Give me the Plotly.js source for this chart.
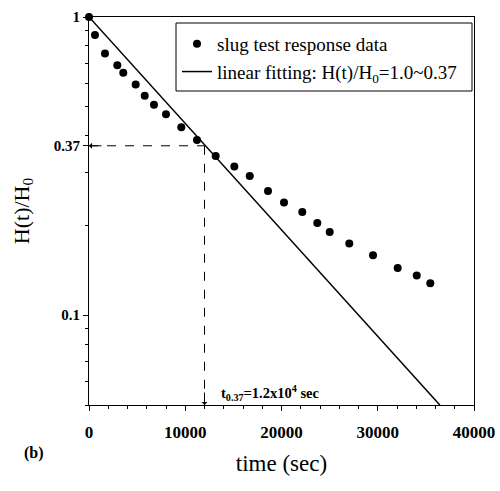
<!DOCTYPE html>
<html><head><meta charset="utf-8">
<script src="https://cdn.plot.ly/plotly-3.0.1.min.js"></script>
<style>html,body{margin:0;padding:0;background:#fff}#chart{width:500px;height:491px}</style>
</head><body><div id="chart"></div>
<script>
// slug test response data (time in sec, normalized head)
const timeSec = [0, 620, 1660, 2940, 3560, 4850, 5790, 6750, 8000, 9590, 11220, 13160, 15100, 16700, 18600, 20260, 22160, 23720, 25010, 27040, 29510, 32070, 34050, 35460];
const headRatio = [1.0, 0.870, 0.755, 0.689, 0.650, 0.594, 0.544, 0.508, 0.472, 0.427, 0.387, 0.342, 0.315, 0.293, 0.261, 0.239, 0.222, 0.204, 0.190, 0.174, 0.159, 0.144, 0.136, 0.128];
// linear fitting line endpoints
const fitTime = [0, 36450];
const fitHead = [1.0, 0.05];
// characteristic time guide
const tChar = 12000;
const hChar = 0.37;
const yBottom = 0.05;
// ticks
const xTickVals = [0, 10000, 20000, 30000, 40000];
const yTickVals = [0.1, 0.37, 1];
const yTickText = ['0.1', '0.37', '1'];
const yMinorVals = [0.05, 0.06, 0.07, 0.08, 0.09, 0.2, 0.3, 0.4, 0.5, 0.6, 0.7, 0.8, 0.9];

const serif = 'Liberation Serif, Times New Roman, serif';

const traces = [
  {x: timeSec, y: headRatio, mode: 'markers', type: 'scatter', name: 'slug test response data',
   marker: {color: '#000', size: 8}, cliponaxis: false},
  {x: fitTime, y: fitHead, mode: 'lines', type: 'scatter',
   name: 'linear fitting: H(t)/H<sub>0</sub>=1.0~0.37',
   line: {color: '#000', width: 1.5}},
  {x: [0, tChar], y: [hChar, hChar], mode: 'lines', type: 'scatter', showlegend: false,
   line: {color: '#000', width: 1, dash: 'dash'}, hoverinfo: 'skip'},
  {x: [tChar, tChar], y: [hChar, yBottom], mode: 'lines', type: 'scatter', showlegend: false,
   line: {color: '#000', width: 1, dash: 'dash'}, hoverinfo: 'skip'}
];

const px2x = p => (p - 89) / 385;
const px2y = p => (405 - p) / 388;

const layout = {
  width: 500, height: 491,
  margin: {l: 89, r: 26, t: 17, b: 86},
  paper_bgcolor: '#fff', plot_bgcolor: '#fff',
  font: {family: serif, color: '#000'},
  showlegend: true,
  legend: {x: px2x(177), y: px2y(25), xanchor: 'left', yanchor: 'top', bgcolor: 'rgba(0,0,0,0)',
           borderwidth: 0, font: {family: serif, size: 19, color: '#000'}},
  xaxis: {
    range: [0, 40000], tickvals: xTickVals, ticktext: xTickVals.map(String),
    showgrid: false, zeroline: false, showline: true, linecolor: '#000', linewidth: 1, mirror: true,
    ticks: 'outside', ticklen: 5, tickcolor: '#000', ticklabelstandoff: 7,
    tickfont: {family: serif, size: 17, color: '#000', weight: 'bold'},
    minor: {dtick: 2000, ticks: 'outside', ticklen: 3, tickcolor: '#000'},
    title: {text: 'time (sec)', font: {family: serif, size: 23, color: '#000'}, standoff: 13}
  },
  yaxis: {
    type: 'log', range: [Math.log10(0.05), 0],
    tickvals: yTickVals, ticktext: yTickText,
    showgrid: false, zeroline: false, showline: true, linecolor: '#000', linewidth: 1, mirror: true,
    ticks: 'outside', ticklen: 5, tickcolor: '#000',
    tickfont: {family: serif, size: 15, color: '#000', weight: 'bold'},
    minor: {tickmode: 'array', tickvals: yMinorVals, ticks: 'outside', ticklen: 3, tickcolor: '#000'},
    title: {text: 'H(t)/H<sub>0</sub>', font: {family: serif, size: 22, color: '#000'}, standoff: 18}
  },
  shapes: [
    {type: 'rect', xref: 'paper', yref: 'paper', x0: px2x(176), x1: px2x(472), y0: px2y(91), y1: px2y(23),
     line: {color: '#000', width: 1}, fillcolor: 'rgba(0,0,0,0)'}
  ],
  annotations: [
    {x: 0, y: Math.log10(hChar), xref: 'x', yref: 'y', ax: 14, ay: 0, showarrow: true,
     arrowhead: 1, arrowsize: 1, arrowwidth: 1, arrowcolor: '#000', text: ''},
    {x: tChar, y: Math.log10(yBottom), xref: 'x', yref: 'y', ax: 0, ay: -14, showarrow: true,
     arrowhead: 1, arrowsize: 1, arrowwidth: 1, arrowcolor: '#000', text: ''},
    {x: px2x(219), y: px2y(393), xref: 'paper', yref: 'paper', xanchor: 'left', yanchor: 'middle', showarrow: false,
     text: '<b>t<sub>0.37</sub>=1.2x10<sup>4</sup> sec</b>', font: {family: serif, size: 14.5, color: '#000'}},
    {x: px2x(34), y: px2y(453), xref: 'paper', yref: 'paper', xanchor: 'center', yanchor: 'middle',
     showarrow: false, text: '<b>(b)</b>', font: {family: serif, size: 16, color: '#000'}}
  ]
};

Plotly.newPlot('chart', traces, layout, {displayModeBar: false, staticPlot: true});
</script>
</body></html>
